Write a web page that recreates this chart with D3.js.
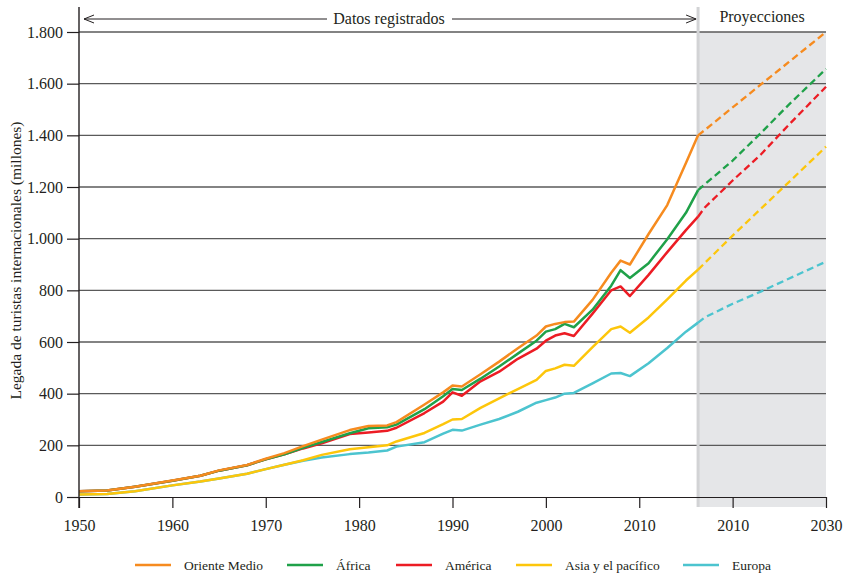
<!DOCTYPE html>
<html>
<head>
<meta charset="utf-8">
<script src="https://cdn.jsdelivr.net/npm/d3@7"></script>
<style>
  body { margin: 0; background: #fff; }
  svg { font-family: "Liberation Serif", "Times New Roman", serif; }
</style>
</head>
<body>
<svg id="chart" width="846" height="575"></svg>
<script>
// recorded years (shared by all five series)
var years = [1950, 1953, 1956, 1960, 1963, 1965, 1968, 1970, 1972, 1974, 1976, 1979, 1981, 1983, 1984,
  1987, 1989, 1990, 1991, 1993, 1995, 1997, 1999, 2000, 2001, 2002, 2003, 2005, 2007, 2008, 2009,
  2011, 2013, 2015, 2016.3];
// projection years
var projYears = [2016.3, 2017, 2020, 2023, 2026, 2030];

// cumulative arrivals (millions) as drawn
var orienteMedio = [22, 25, 40, 64, 82, 103, 124, 148, 170, 197, 222, 259, 275, 277, 290,
  358, 405, 432, 428, 475, 524, 576, 625, 660, 670, 677, 679, 763, 868, 915, 900,
  1018, 1130, 1293, 1400];
var africa = [22, 25, 40, 63, 82, 102, 123, 146, 165, 190, 213, 247, 266, 270, 280,
  340, 390, 418, 414, 458, 505, 555, 605, 640, 650, 670, 657, 725, 818, 878, 848,
  905, 998, 1100, 1188];
var america = [22, 25, 40, 63, 82, 102, 123, 146, 165, 188, 208, 244, 250, 256, 268,
  325, 369, 405, 392, 448, 485, 535, 574, 605, 625, 634, 623, 710, 800, 815, 778,
  860, 948, 1033, 1085];
var asiaPacifico = [10, 12, 22, 45, 60, 72, 90, 108, 125, 142, 163, 185, 193, 200, 215,
  248, 282, 300, 302, 345, 382, 418, 453, 488, 498, 512, 508, 580, 650, 660, 636,
  695, 765, 838, 880];
var europa = [10, 12, 22, 45, 60, 72, 90, 108, 125, 140, 153, 166, 172, 180, 195,
  212, 245, 260, 257, 280, 302, 330, 365, 375, 385, 400, 403, 440, 478, 480, 468,
  518, 577, 640, 675];

var projOriente = [1400, 1420, 1508, 1596, 1683, 1800];
var projAfrica = [1188, 1210, 1302, 1408, 1518, 1657];
var projAmerica = [1085, 1120, 1225, 1325, 1440, 1588];
var projAsia = [880, 905, 1012, 1115, 1218, 1356];
var projEuropa = [675, 695, 748, 795, 845, 911];

var seriesNames = ["Oriente Medio", "África", "América", "Asia y el pacífico", "Europa"];
var colors = ["#f68b1f", "#1fa149", "#ec1c24", "#fdc60b", "#4cc4cf"];

var xTicks = [1950, 1960, 1970, 1980, 1990, 2000, 2010, 2020, 2030];
var xTickLabels = ["1950", "1960", "1970", "1980", "1990", "2000", "2010", "2010", "2030"];
var yTicks = [0, 200, 400, 600, 800, 1000, 1200, 1400, 1600, 1800];

var splitYear = 2016.3;

var svg = d3.select("#chart");
var margin = {left: 79, right: 20, top: 32, bottom: 78};
var W = 846, H = 575;

var x = d3.scaleLinear().domain([1950, 2030]).range([margin.left, W - margin.right]);
var y = d3.scaleLinear().domain([0, 1800]).range([H - margin.bottom, margin.top]);

var locale = d3.formatLocale({decimal: ",", thousands: ".", grouping: [3], currency: ["", ""]});
var fmt = locale.format(",");

// projection band
svg.append("rect")
  .attr("x", x(splitYear)).attr("y", y(1800))
  .attr("width", x(2030) - x(splitYear))
  .attr("height", y(0) - y(1800) + 10)
  .attr("fill", "#e5e6e8");

// gridlines
svg.append("g").selectAll("line")
  .data(yTicks.slice(1))
  .enter().append("line")
  .attr("x1", x(1950)).attr("x2", x(2030))
  .attr("y1", function(d) { return y(d); })
  .attr("y2", function(d) { return y(d); })
  .attr("stroke", "#5a5a5a")
  .attr("stroke-width", 1.3);

// separator
svg.append("line")
  .attr("x1", x(splitYear)).attr("x2", x(splitYear))
  .attr("y1", 7).attr("y2", y(0) + 10)
  .attr("stroke", "#d2d3d5").attr("stroke-width", 3);

// lines
var hist = [orienteMedio, africa, america, asiaPacifico, europa];
var proj = [projOriente, projAfrica, projAmerica, projAsia, projEuropa];

var line = d3.line()
  .x(function(d) { return x(d[0]); })
  .y(function(d) { return y(d[1]); });

// draw lowest first so upper lines sit on top
for (var i = hist.length - 1; i >= 0; i--) {
  svg.append("path")
    .datum(d3.zip(years, hist[i]))
    .attr("d", line)
    .attr("fill", "none")
    .attr("stroke", colors[i])
    .attr("stroke-width", 2.5)
    .attr("stroke-linejoin", "round");
  svg.append("path")
    .datum(d3.zip(projYears, proj[i]))
    .attr("d", line)
    .attr("fill", "none")
    .attr("stroke", colors[i])
    .attr("stroke-width", 2.3)
    .attr("stroke-dasharray", "7,4");
}

// x axis
var xAxis = d3.axisBottom(x)
  .tickValues(xTicks)
  .tickFormat(function(d, i) { return xTickLabels[i]; })
  .tickSize(11).tickSizeOuter(0).tickPadding(12);
var gx = svg.append("g").attr("transform", "translate(0," + y(0) + ")").call(xAxis);
gx.selectAll("text").attr("font-size", 16).attr("fill", "#231f20").attr("font-family", "Liberation Serif");
gx.selectAll("line,path").attr("stroke", "#231f20").attr("stroke-width", 1.2);

// y axis
var yAxis = d3.axisLeft(y)
  .tickValues(yTicks)
  .tickFormat(fmt)
  .tickSize(12).tickSizeOuter(0).tickPadding(4);
var gy = svg.append("g").attr("transform", "translate(" + x(1950) + ",0)").call(yAxis);
gy.select(".domain").remove();
gy.selectAll("text").attr("font-size", 16).attr("fill", "#231f20").attr("font-family", "Liberation Serif");
gy.selectAll("line").attr("stroke", "#231f20").attr("stroke-width", 1.2);
svg.append("line")
  .attr("x1", x(1950)).attr("x2", x(1950))
  .attr("y1", 7).attr("y2", y(0) + 11)
  .attr("stroke", "#231f20").attr("stroke-width", 1.4);

// y title
svg.append("text")
  .attr("transform", "translate(21," + ((y(0) + y(1800)) / 2 - 4) + ") rotate(-90)")
  .attr("text-anchor", "middle")
  .attr("font-size", 15.5)
  .attr("fill", "#231f20")
  .text("Legada de turistas internacionales (millones)");

// "Datos registrados" arrow
var arrowY = 19;
var ax0 = x(1950) + 5, ax1 = x(splitYear) - 2;
var midX = 389;
svg.append("text")
  .attr("x", midX).attr("y", arrowY + 5)
  .attr("text-anchor", "middle")
  .attr("font-size", 16).attr("fill", "#231f20")
  .text("Datos registrados");
svg.append("line").attr("x1", ax0).attr("x2", midX - 62).attr("y1", arrowY).attr("y2", arrowY)
  .attr("stroke", "#231f20").attr("stroke-width", 1);
svg.append("line").attr("x1", midX + 63).attr("x2", ax1).attr("y1", arrowY).attr("y2", arrowY)
  .attr("stroke", "#231f20").attr("stroke-width", 1);
svg.append("path")
  .attr("d", "M" + (ax0 + 10) + "," + (arrowY - 4) + "L" + ax0 + "," + arrowY + "L" + (ax0 + 10) + "," + (arrowY + 4))
  .attr("fill", "none").attr("stroke", "#231f20").attr("stroke-width", 1);
svg.append("path")
  .attr("d", "M" + (ax1 - 10) + "," + (arrowY - 4) + "L" + ax1 + "," + arrowY + "L" + (ax1 - 10) + "," + (arrowY + 4))
  .attr("fill", "none").attr("stroke", "#231f20").attr("stroke-width", 1);

svg.append("text")
  .attr("x", (x(splitYear) + x(2030)) / 2).attr("y", 22)
  .attr("text-anchor", "middle")
  .attr("font-size", 16).attr("fill", "#231f20")
  .text("Proyecciones");

// legend
var legendX = [135, 287, 396, 516, 683];
var lg = svg.append("g").selectAll("g")
  .data(seriesNames)
  .enter().append("g")
  .attr("transform", function(d, i) { return "translate(" + legendX[i] + ",565)"; });
lg.append("line")
  .attr("x1", 0).attr("x2", 36)
  .attr("stroke", function(d, i) { return colors[i]; })
  .attr("stroke-width", 2.5);
lg.append("text")
  .attr("x", 49).attr("y", 5)
  .attr("font-size", 13.5).attr("fill", "#231f20")
  .text(function(d) { return d; });
</script>
</body>
</html>
